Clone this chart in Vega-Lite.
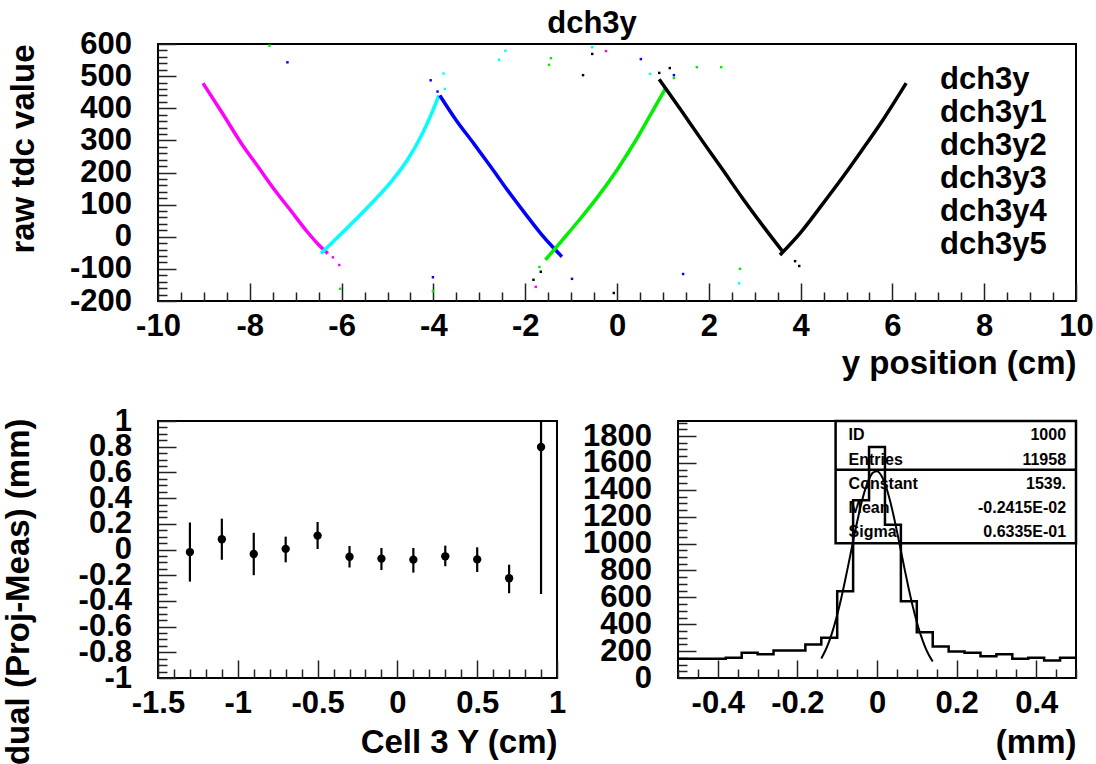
{
  "$schema": "https://vega.github.io/schema/vega-lite/v6.json",
  "background": "white",
  "padding": {"left": 0, "top": 7, "right": 10, "bottom": 10},
  "bounds": "flush",
  "spacing": 120,
  "config": {
    "font": "Liberation Sans",
    "view": {"stroke": "black", "strokeWidth": 2},
    "axis": {
      "labelFont": "Liberation Sans", "labelFontWeight": "bold", "labelFontSize": 31, "labelColor": "black",
      "titleFont": "Liberation Sans", "titleFontWeight": "bold", "titleFontSize": 33, "titleColor": "black",
      "domain": false, "grid": false, "tickColor": "#222222", "tickWidth": 1.5,
      "labelOverlap": false, "labelFlush": false, "labelBound": false
    }
  },
  "datasets": {
    "curves": [
      {"series": "dch3y5", "branch": "a", "pos": -9.02, "tdc": 478},
      {"series": "dch3y5", "branch": "a", "pos": -8.6, "tdc": 385},
      {"series": "dch3y5", "branch": "a", "pos": -8.19, "tdc": 292},
      {"series": "dch3y5", "branch": "a", "pos": -7.8, "tdc": 214},
      {"series": "dch3y5", "branch": "a", "pos": -7.47, "tdc": 148},
      {"series": "dch3y5", "branch": "a", "pos": -7.1, "tdc": 80},
      {"series": "dch3y5", "branch": "a", "pos": -6.74, "tdc": 14},
      {"series": "dch3y5", "branch": "a", "pos": -6.5, "tdc": -25},
      {"series": "dch3y5", "branch": "a", "pos": -6.3, "tdc": -52},
      {"series": "dch3y4", "branch": "b", "pos": -6.45, "tdc": -52},
      {"series": "dch3y4", "branch": "b", "pos": -6.02, "tdc": 8},
      {"series": "dch3y4", "branch": "b", "pos": -5.6, "tdc": 67},
      {"series": "dch3y4", "branch": "b", "pos": -5.29, "tdc": 113},
      {"series": "dch3y4", "branch": "b", "pos": -4.9, "tdc": 175},
      {"series": "dch3y4", "branch": "b", "pos": -4.57, "tdc": 238},
      {"series": "dch3y4", "branch": "b", "pos": -4.25, "tdc": 318},
      {"series": "dch3y4", "branch": "b", "pos": -4.05, "tdc": 380},
      {"series": "dch3y4", "branch": "b", "pos": -3.88, "tdc": 440},
      {"series": "dch3y3", "branch": "c", "pos": -3.86, "tdc": 440},
      {"series": "dch3y3", "branch": "c", "pos": -3.5, "tdc": 362},
      {"series": "dch3y3", "branch": "c", "pos": -3.12, "tdc": 290},
      {"series": "dch3y3", "branch": "c", "pos": -2.75, "tdc": 218},
      {"series": "dch3y3", "branch": "c", "pos": -2.39, "tdc": 146},
      {"series": "dch3y3", "branch": "c", "pos": -2.0, "tdc": 72},
      {"series": "dch3y3", "branch": "c", "pos": -1.66, "tdc": 10},
      {"series": "dch3y3", "branch": "c", "pos": -1.4, "tdc": -32},
      {"series": "dch3y3", "branch": "c", "pos": -1.2, "tdc": -62},
      {"series": "dch3y2", "branch": "d", "pos": -1.56, "tdc": -72},
      {"series": "dch3y2", "branch": "d", "pos": -1.2, "tdc": -12},
      {"series": "dch3y2", "branch": "d", "pos": -0.8, "tdc": 56},
      {"series": "dch3y2", "branch": "d", "pos": -0.4, "tdc": 128},
      {"series": "dch3y2", "branch": "d", "pos": 0, "tdc": 208},
      {"series": "dch3y2", "branch": "d", "pos": 0.4, "tdc": 298},
      {"series": "dch3y2", "branch": "d", "pos": 0.75, "tdc": 385},
      {"series": "dch3y2", "branch": "d", "pos": 1.07, "tdc": 465},
      {"series": "dch3y1", "branch": "e", "pos": 0.92, "tdc": 490},
      {"series": "dch3y1", "branch": "e", "pos": 1.4, "tdc": 393},
      {"series": "dch3y1", "branch": "e", "pos": 1.85, "tdc": 300},
      {"series": "dch3y1", "branch": "e", "pos": 2.3, "tdc": 209},
      {"series": "dch3y1", "branch": "e", "pos": 2.72, "tdc": 123},
      {"series": "dch3y1", "branch": "e", "pos": 3.2, "tdc": 30},
      {"series": "dch3y1", "branch": "e", "pos": 3.62, "tdc": -48},
      {"series": "dch3y1", "branch": "f", "pos": 3.55, "tdc": -57},
      {"series": "dch3y1", "branch": "f", "pos": 4.0, "tdc": 13},
      {"series": "dch3y1", "branch": "f", "pos": 4.47, "tdc": 100},
      {"series": "dch3y1", "branch": "f", "pos": 4.9, "tdc": 182},
      {"series": "dch3y1", "branch": "f", "pos": 5.34, "tdc": 270},
      {"series": "dch3y1", "branch": "f", "pos": 5.8, "tdc": 365},
      {"series": "dch3y1", "branch": "f", "pos": 6.3, "tdc": 478}
    ],
    "stray": [
      {"series": "dch3y2", "pos": -7.57, "tdc": 595},
      {"series": "dch3y3", "pos": -7.18, "tdc": 543},
      {"series": "dch3y3", "pos": -4.06, "tdc": 487},
      {"series": "dch3y3", "pos": -3.91, "tdc": 452},
      {"series": "dch3y4", "pos": -3.78, "tdc": 508},
      {"series": "dch3y4", "pos": -3.75, "tdc": 460},
      {"series": "dch3y4", "pos": -2.57, "tdc": 551},
      {"series": "dch3y4", "pos": -2.43, "tdc": 579},
      {"series": "dch3y5", "pos": -6.19, "tdc": -64},
      {"series": "dch3y5", "pos": -6.05, "tdc": -88},
      {"series": "dch3y2", "pos": -6.03, "tdc": -162},
      {"series": "dch3y3", "pos": -4.01, "tdc": -126},
      {"series": "dch3y2", "pos": -4.01, "tdc": -170},
      {"series": "dch3y", "pos": -1.82, "tdc": -134},
      {"series": "dch3y5", "pos": -1.77, "tdc": -156},
      {"series": "dch3y2", "pos": -1.69, "tdc": -94},
      {"series": "dch3y", "pos": -1.66, "tdc": -109},
      {"series": "dch3y", "pos": -0.74, "tdc": 503},
      {"series": "dch3y2", "pos": -1.44, "tdc": 556},
      {"series": "dch3y2", "pos": -1.48, "tdc": 535},
      {"series": "dch3y4", "pos": -0.54, "tdc": 590},
      {"series": "dch3y", "pos": -0.54, "tdc": 569},
      {"series": "dch3y5", "pos": -0.24, "tdc": 578},
      {"series": "dch3y3", "pos": 0.52, "tdc": 553},
      {"series": "dch3y", "pos": 0.92, "tdc": 510},
      {"series": "dch3y2", "pos": 1.24, "tdc": 494},
      {"series": "dch3y2", "pos": 1.74, "tdc": 528},
      {"series": "dch3y2", "pos": 2.27, "tdc": 528},
      {"series": "dch3y4", "pos": 0.72, "tdc": 507},
      {"series": "dch3y", "pos": 1.15, "tdc": 525},
      {"series": "dch3y3", "pos": 1.24, "tdc": 503},
      {"series": "dch3y3", "pos": -0.98, "tdc": -131},
      {"series": "dch3y2", "pos": 2.68, "tdc": -100},
      {"series": "dch3y4", "pos": 2.66, "tdc": -145},
      {"series": "dch3y3", "pos": 1.44, "tdc": -116},
      {"series": "dch3y", "pos": -0.07, "tdc": -175},
      {"series": "dch3y", "pos": 3.88, "tdc": -76},
      {"series": "dch3y", "pos": 3.97, "tdc": -91}
    ],
    "residuals": [
      {"cell": -1.3, "res": -0.02, "lo": -0.25, "hi": 0.21},
      {"cell": -1.1, "res": 0.08, "lo": -0.08, "hi": 0.24},
      {"cell": -0.9, "res": -0.035, "lo": -0.2, "hi": 0.13},
      {"cell": -0.7, "res": 0.005, "lo": -0.1, "hi": 0.1},
      {"cell": -0.5, "res": 0.108, "lo": 0.004, "hi": 0.214},
      {"cell": -0.3, "res": -0.056, "lo": -0.14, "hi": 0.027},
      {"cell": -0.1, "res": -0.071, "lo": -0.16, "hi": 0.012},
      {"cell": 0.1, "res": -0.079, "lo": -0.18, "hi": 0.012},
      {"cell": 0.3, "res": -0.053, "lo": -0.13, "hi": 0.03},
      {"cell": 0.5, "res": -0.077, "lo": -0.175, "hi": 0.017},
      {"cell": 0.7, "res": -0.224, "lo": -0.34, "hi": -0.118},
      {"cell": 0.9, "res": 0.798, "lo": -0.346, "hi": 1.94}
    ],
    "hist": [
      {"mm": -0.5, "entries": 143}, {"mm": -0.46, "entries": 143}, {"mm": -0.42, "entries": 143},
      {"mm": -0.38, "entries": 151}, {"mm": -0.34, "entries": 188}, {"mm": -0.3, "entries": 176},
      {"mm": -0.26, "entries": 205}, {"mm": -0.22, "entries": 205}, {"mm": -0.18, "entries": 250},
      {"mm": -0.14, "entries": 299}, {"mm": -0.1, "entries": 645}, {"mm": -0.06, "entries": 1323},
      {"mm": -0.02, "entries": 1719}, {"mm": 0.02, "entries": 1140}, {"mm": 0.06, "entries": 571},
      {"mm": 0.1, "entries": 341}, {"mm": 0.14, "entries": 235}, {"mm": 0.18, "entries": 198},
      {"mm": 0.22, "entries": 188}, {"mm": 0.26, "entries": 161}, {"mm": 0.3, "entries": 176},
      {"mm": 0.34, "entries": 143}, {"mm": 0.38, "entries": 151}, {"mm": 0.42, "entries": 131},
      {"mm": 0.46, "entries": 151}, {"mm": 0.5, "entries": 151}
    ],
    "fit": [
      {"mm": -0.14, "entries": 145.6}, {"mm": -0.13, "entries": 202.5}, {"mm": -0.12, "entries": 274.9},
      {"mm": -0.11, "entries": 363.9}, {"mm": -0.1, "entries": 469.9}, {"mm": -0.09, "entries": 591.8},
      {"mm": -0.08, "entries": 727.0}, {"mm": -0.07, "entries": 871.1}, {"mm": -0.06, "entries": 1018.2},
      {"mm": -0.05, "entries": 1160.7}, {"mm": -0.04, "entries": 1290.6}, {"mm": -0.03, "entries": 1399.8},
      {"mm": -0.02, "entries": 1480.8}, {"mm": -0.01, "entries": 1528.0}, {"mm": 0.0, "entries": 1537.9},
      {"mm": 0.01, "entries": 1509.7}, {"mm": 0.02, "entries": 1445.6}, {"mm": 0.03, "entries": 1350.2},
      {"mm": 0.04, "entries": 1230.0}, {"mm": 0.05, "entries": 1092.9}, {"mm": 0.06, "entries": 947.2},
      {"mm": 0.07, "entries": 800.7}, {"mm": 0.08, "entries": 660.3}, {"mm": 0.09, "entries": 531.0},
      {"mm": 0.1, "entries": 416.6}, {"mm": 0.11, "entries": 318.8}, {"mm": 0.12, "entries": 237.9},
      {"mm": 0.13, "entries": 173.2}, {"mm": 0.14, "entries": 123.0}
    ]
  },
  "vconcat": [
    {
      "width": 918,
      "height": 257,
      "title": {"text": "dch3y", "font": "Liberation Sans", "fontSize": 31, "fontWeight": "bold", "color": "black", "anchor": "middle", "frame": "group", "dx": -25, "offset": -36, "baseline": "alphabetic"},
      "encoding": {
        "x": {
          "field": "pos", "type": "quantitative",
          "scale": {"domain": [-10, 10], "nice": false, "zero": false},
          "axis": {
            "values": [-10, -9.5, -9, -8.5, -8, -7.5, -7, -6.5, -6, -5.5, -5, -4.5, -4, -3.5, -3, -2.5, -2, -1.5, -1, -0.5, 0, 0.5, 1, 1.5, 2, 2.5, 3, 3.5, 4, 4.5, 5, 5.5, 6, 6.5, 7, 7.5, 8, 8.5, 9, 9.5, 10],
            "labelExpr": "datum.value % 2 === 0 ? '' + datum.value : ''",
            "tickSize": {"condition": {"test": "datum.value % 2 === 0", "value": -18}, "value": -9},
            "labelPadding": 28, "labelBaseline": "top",
            "title": "y position (cm)", "titleX": 918, "titleY": 72, "titleAlign": "right", "titleBaseline": "alphabetic", "titleAngle": 0
          }
        },
        "y": {
          "field": "tdc", "type": "quantitative",
          "scale": {"domain": [-200, 600], "nice": false, "zero": false},
          "axis": {
            "values": [-200, -180, -160, -140, -120, -100, -80, -60, -40, -20, 0, 20, 40, 60, 80, 100, 120, 140, 160, 180, 200, 220, 240, 260, 280, 300, 320, 340, 360, 380, 400, 420, 440, 460, 480, 500, 520, 540, 560, 580, 600],
            "labelExpr": "datum.value % 100 === 0 ? '' + datum.value : ''",
            "tickSize": {"condition": {"test": "datum.value % 100 === 0", "value": -18}, "value": -9},
            "labelPadding": 44.5, "labelAlign": "right", "labelBaseline": "middle",
            "title": "raw tdc value", "titleX": -125, "titleY": 0, "titleAlign": "right", "titleBaseline": "alphabetic", "titleAngle": -90
          }
        },
        "color": {
          "field": "series", "type": "nominal",
          "scale": {"domain": ["dch3y", "dch3y1", "dch3y2", "dch3y3", "dch3y4", "dch3y5"], "range": ["#000000", "#000000", "#00ee00", "#0000ff", "#00ffff", "#ff00ff"]},
          "legend": {"orient": "none", "legendX": 751, "legendY": 20, "title": null, "symbolOpacity": 0, "symbolSize": 0, "symbolStrokeWidth": 0, "labelOffset": 0, "labelFont": "Liberation Sans", "labelFontSize": 31, "labelFontWeight": "bold", "labelColor": "black", "rowPadding": 1}
        }
      },
      "layer": [
        {"data": {"name": "curves"}, "mark": {"type": "line", "strokeWidth": 3.5, "interpolate": "monotone", "clip": true}, "encoding": {"detail": {"field": "branch"}}},
        {"data": {"name": "stray"}, "mark": {"type": "square", "size": 6, "opacity": 1, "clip": true}}
      ]
    },
    {
      "spacing": 121,
      "bounds": "flush",
      "hconcat": [
        {
          "width": 399,
          "height": 257,
          "data": {"name": "residuals"},
          "encoding": {
            "x": {
              "field": "cell", "type": "quantitative",
              "scale": {"domain": [-1.5, 1], "nice": false, "zero": false},
              "axis": {
                "values": [-1.5, -1.4, -1.3, -1.2, -1.1, -1, -0.9, -0.8, -0.7, -0.6, -0.5, -0.4, -0.3, -0.2, -0.1, 0, 0.1, 0.2, 0.3, 0.4, 0.5, 0.6, 0.7, 0.8, 0.9, 1],
                "labelExpr": "abs(datum.value*2 - round(datum.value*2)) < 0.001 ? '' + datum.value : ''",
                "tickSize": {"condition": {"test": "abs(datum.value*2 - round(datum.value*2)) < 0.001", "value": -18}, "value": -9},
                "labelPadding": 28, "labelBaseline": "top",
                "title": "Cell 3 Y (cm)", "titleX": 399, "titleY": 74, "titleAlign": "right", "titleBaseline": "alphabetic", "titleAngle": 0
              }
            },
            "y": {
              "field": "res", "type": "quantitative",
              "scale": {"domain": [-1, 1], "nice": false, "zero": false},
              "axis": {
                "values": [-1, -0.95, -0.9, -0.85, -0.8, -0.75, -0.7, -0.65, -0.6, -0.55, -0.5, -0.45, -0.4, -0.35, -0.3, -0.25, -0.2, -0.15, -0.1, -0.05, 0, 0.05, 0.1, 0.15, 0.2, 0.25, 0.3, 0.35, 0.4, 0.45, 0.5, 0.55, 0.6, 0.65, 0.7, 0.75, 0.8, 0.85, 0.9, 0.95, 1],
                "labelExpr": "abs(datum.value*5 - round(datum.value*5)) < 0.001 ? '' + datum.value : ''",
                "tickSize": {"condition": {"test": "abs(datum.value*5 - round(datum.value*5)) < 0.001", "value": -18}, "value": -9},
                "labelPadding": 44.5, "labelAlign": "right", "labelBaseline": "middle",
                "title": "Residual (Proj-Meas) (mm)", "titleX": -130, "titleY": -3, "titleAlign": "right", "titleBaseline": "alphabetic", "titleAngle": -90
              }
            }
          },
          "layer": [
            {
              "mark": {"type": "rule", "strokeWidth": 2.2, "color": "black", "clip": true},
              "encoding": {
                "y": {"field": "lo", "type": "quantitative", "scale": {"domain": [-1, 1], "nice": false, "zero": false}, "title": "Residual (Proj-Meas) (mm)"},
                "y2": {"field": "hi"}
              }
            },
            {
              "mark": {"type": "point", "filled": true, "size": 70, "color": "black", "opacity": 1}
            }
          ]
        },
        {
          "width": 398,
          "height": 257,
          "layer": [
            {
              "data": {"name": "hist"},
              "mark": {"type": "line", "interpolate": "step-after", "color": "black", "strokeWidth": 2.5, "clip": true},
              "encoding": {
                "x": {
                  "field": "mm", "type": "quantitative",
                  "scale": {"domain": [-0.5, 0.5], "nice": false, "zero": false},
                  "axis": {
                    "values": [-0.5, -0.45, -0.4, -0.35, -0.3, -0.25, -0.2, -0.15, -0.1, -0.05, 0, 0.05, 0.1, 0.15, 0.2, 0.25, 0.3, 0.35, 0.4, 0.45, 0.5],
                    "labelExpr": "abs(datum.value*5 - round(datum.value*5)) < 0.001 && abs(datum.value) < 0.45 ? '' + datum.value : ''",
                    "tickSize": {"condition": {"test": "abs(datum.value*5 - round(datum.value*5)) < 0.001", "value": -18}, "value": -9},
                    "labelPadding": 28, "labelBaseline": "top",
                    "title": "(mm)", "titleX": 398, "titleY": 74, "titleAlign": "right", "titleBaseline": "alphabetic", "titleAngle": 0
                  }
                },
                "y": {
                  "field": "entries", "type": "quantitative",
                  "scale": {"domain": [0, 1912], "nice": false, "zero": false},
                  "axis": {
                    "values": [0, 50, 100, 150, 200, 250, 300, 350, 400, 450, 500, 550, 600, 650, 700, 750, 800, 850, 900, 950, 1000, 1050, 1100, 1150, 1200, 1250, 1300, 1350, 1400, 1450, 1500, 1550, 1600, 1650, 1700, 1750, 1800, 1850, 1900],
                    "labelExpr": "datum.value % 200 === 0 ? '' + datum.value : ''",
                    "tickSize": {"condition": {"test": "datum.value % 200 === 0", "value": -18}, "value": -9},
                    "labelPadding": 44.5, "labelAlign": "right", "labelBaseline": "middle",
                    "title": null
                  }
                }
              }
            },
            {
              "data": {"name": "fit"},
              "mark": {"type": "line", "interpolate": "monotone", "color": "black", "strokeWidth": 2, "clip": true},
              "encoding": {
                "x": {
                  "field": "mm", "type": "quantitative",
                  "scale": {"domain": [-0.5, 0.5], "nice": false, "zero": false},
                  "axis": {
                    "values": [-0.5, -0.45, -0.4, -0.35, -0.3, -0.25, -0.2, -0.15, -0.1, -0.05, 0, 0.05, 0.1, 0.15, 0.2, 0.25, 0.3, 0.35, 0.4, 0.45, 0.5],
                    "labelExpr": "abs(datum.value*5 - round(datum.value*5)) < 0.001 && abs(datum.value) < 0.45 ? '' + datum.value : ''",
                    "tickSize": {"condition": {"test": "abs(datum.value*5 - round(datum.value*5)) < 0.001", "value": -18}, "value": -9},
                    "labelPadding": 28, "labelBaseline": "top",
                    "title": "(mm)", "titleX": 398, "titleY": 74, "titleAlign": "right", "titleBaseline": "alphabetic", "titleAngle": 0
                  }
                },
                "y": {
                  "field": "entries", "type": "quantitative",
                  "scale": {"domain": [0, 1912], "nice": false, "zero": false},
                  "axis": {
                    "values": [0, 50, 100, 150, 200, 250, 300, 350, 400, 450, 500, 550, 600, 650, 700, 750, 800, 850, 900, 950, 1000, 1050, 1100, 1150, 1200, 1250, 1300, 1350, 1400, 1450, 1500, 1550, 1600, 1650, 1700, 1750, 1800, 1850, 1900],
                    "labelExpr": "datum.value % 200 === 0 ? '' + datum.value : ''",
                    "tickSize": {"condition": {"test": "datum.value % 200 === 0", "value": -18}, "value": -9},
                    "labelPadding": 44.5, "labelAlign": "right", "labelBaseline": "middle",
                    "title": null
                  }
                }
              }
            },
            {
              "data": {"values": [{"box": "stats"}]},
              "mark": {"type": "rect", "fill": "white", "fillOpacity": 0, "stroke": "black", "strokeWidth": 2.5},
              "encoding": {
                "x": {
                  "datum": -0.104, "type": "quantitative",
                  "scale": {"domain": [-0.5, 0.5], "nice": false, "zero": false},
                  "axis": {
                    "values": [-0.5, -0.45, -0.4, -0.35, -0.3, -0.25, -0.2, -0.15, -0.1, -0.05, 0, 0.05, 0.1, 0.15, 0.2, 0.25, 0.3, 0.35, 0.4, 0.45, 0.5],
                    "labelExpr": "abs(datum.value*5 - round(datum.value*5)) < 0.001 && abs(datum.value) < 0.45 ? '' + datum.value : ''",
                    "tickSize": {"condition": {"test": "abs(datum.value*5 - round(datum.value*5)) < 0.001", "value": -18}, "value": -9},
                    "labelPadding": 28, "labelBaseline": "top",
                    "title": "(mm)", "titleX": 398, "titleY": 74, "titleAlign": "right", "titleBaseline": "alphabetic", "titleAngle": 0
                  }
                },
                "x2": {"datum": 0.5},
                "y": {
                  "datum": 1002, "type": "quantitative",
                  "scale": {"domain": [0, 1912], "nice": false, "zero": false},
                  "axis": {
                    "values": [0, 50, 100, 150, 200, 250, 300, 350, 400, 450, 500, 550, 600, 650, 700, 750, 800, 850, 900, 950, 1000, 1050, 1100, 1150, 1200, 1250, 1300, 1350, 1400, 1450, 1500, 1550, 1600, 1650, 1700, 1750, 1800, 1850, 1900],
                    "labelExpr": "datum.value % 200 === 0 ? '' + datum.value : ''",
                    "tickSize": {"condition": {"test": "datum.value % 200 === 0", "value": -18}, "value": -9},
                    "labelPadding": 44.5, "labelAlign": "right", "labelBaseline": "middle",
                    "title": null
                  }
                },
                "y2": {"datum": 1912}
              }
            },
            {
              "data": {"values": [{"box": "stats"}]},
              "mark": {"type": "rule", "stroke": "black", "strokeWidth": 2.5},
              "encoding": {
                "x": {
                  "datum": -0.104, "type": "quantitative",
                  "scale": {"domain": [-0.5, 0.5], "nice": false, "zero": false},
                  "axis": {
                    "values": [-0.5, -0.45, -0.4, -0.35, -0.3, -0.25, -0.2, -0.15, -0.1, -0.05, 0, 0.05, 0.1, 0.15, 0.2, 0.25, 0.3, 0.35, 0.4, 0.45, 0.5],
                    "labelExpr": "abs(datum.value*5 - round(datum.value*5)) < 0.001 && abs(datum.value) < 0.45 ? '' + datum.value : ''",
                    "tickSize": {"condition": {"test": "abs(datum.value*5 - round(datum.value*5)) < 0.001", "value": -18}, "value": -9},
                    "labelPadding": 28, "labelBaseline": "top",
                    "title": "(mm)", "titleX": 398, "titleY": 74, "titleAlign": "right", "titleBaseline": "alphabetic", "titleAngle": 0
                  }
                },
                "x2": {"datum": 0.5},
                "y": {
                  "datum": 1549, "type": "quantitative",
                  "scale": {"domain": [0, 1912], "nice": false, "zero": false},
                  "axis": {
                    "values": [0, 50, 100, 150, 200, 250, 300, 350, 400, 450, 500, 550, 600, 650, 700, 750, 800, 850, 900, 950, 1000, 1050, 1100, 1150, 1200, 1250, 1300, 1350, 1400, 1450, 1500, 1550, 1600, 1650, 1700, 1750, 1800, 1850, 1900],
                    "labelExpr": "datum.value % 200 === 0 ? '' + datum.value : ''",
                    "tickSize": {"condition": {"test": "datum.value % 200 === 0", "value": -18}, "value": -9},
                    "labelPadding": 44.5, "labelAlign": "right", "labelBaseline": "middle",
                    "title": null
                  }
                }
              }
            },
            {
              "data": {"values": [{"box": "stats"}]},
              "mark": {"type": "text", "text": ["ID", "Entries", "Constant", "Mean", "Sigma"], "align": "left", "baseline": "alphabetic", "lineHeight": 24.25, "font": "Liberation Sans", "fontWeight": "bold", "fontSize": 16, "color": "black"},
              "encoding": {
                "x": {
                  "datum": -0.0714, "type": "quantitative",
                  "scale": {"domain": [-0.5, 0.5], "nice": false, "zero": false},
                  "axis": {
                    "values": [-0.5, -0.45, -0.4, -0.35, -0.3, -0.25, -0.2, -0.15, -0.1, -0.05, 0, 0.05, 0.1, 0.15, 0.2, 0.25, 0.3, 0.35, 0.4, 0.45, 0.5],
                    "labelExpr": "abs(datum.value*5 - round(datum.value*5)) < 0.001 && abs(datum.value) < 0.45 ? '' + datum.value : ''",
                    "tickSize": {"condition": {"test": "abs(datum.value*5 - round(datum.value*5)) < 0.001", "value": -18}, "value": -9},
                    "labelPadding": 28, "labelBaseline": "top",
                    "title": "(mm)", "titleX": 398, "titleY": 74, "titleAlign": "right", "titleBaseline": "alphabetic", "titleAngle": 0
                  }
                },
                "y": {
                  "datum": 1768, "type": "quantitative",
                  "scale": {"domain": [0, 1912], "nice": false, "zero": false},
                  "axis": {
                    "values": [0, 50, 100, 150, 200, 250, 300, 350, 400, 450, 500, 550, 600, 650, 700, 750, 800, 850, 900, 950, 1000, 1050, 1100, 1150, 1200, 1250, 1300, 1350, 1400, 1450, 1500, 1550, 1600, 1650, 1700, 1750, 1800, 1850, 1900],
                    "labelExpr": "datum.value % 200 === 0 ? '' + datum.value : ''",
                    "tickSize": {"condition": {"test": "datum.value % 200 === 0", "value": -18}, "value": -9},
                    "labelPadding": 44.5, "labelAlign": "right", "labelBaseline": "middle",
                    "title": null
                  }
                }
              }
            },
            {
              "data": {"values": [{"box": "stats"}]},
              "mark": {"type": "text", "text": ["1000", "11958", "1539.", "-0.2415E-02", "0.6335E-01"], "align": "right", "baseline": "alphabetic", "lineHeight": 24.25, "font": "Liberation Sans", "fontWeight": "bold", "fontSize": 16, "color": "black"},
              "encoding": {
                "x": {
                  "datum": 0.475, "type": "quantitative",
                  "scale": {"domain": [-0.5, 0.5], "nice": false, "zero": false},
                  "axis": {
                    "values": [-0.5, -0.45, -0.4, -0.35, -0.3, -0.25, -0.2, -0.15, -0.1, -0.05, 0, 0.05, 0.1, 0.15, 0.2, 0.25, 0.3, 0.35, 0.4, 0.45, 0.5],
                    "labelExpr": "abs(datum.value*5 - round(datum.value*5)) < 0.001 && abs(datum.value) < 0.45 ? '' + datum.value : ''",
                    "tickSize": {"condition": {"test": "abs(datum.value*5 - round(datum.value*5)) < 0.001", "value": -18}, "value": -9},
                    "labelPadding": 28, "labelBaseline": "top",
                    "title": "(mm)", "titleX": 398, "titleY": 74, "titleAlign": "right", "titleBaseline": "alphabetic", "titleAngle": 0
                  }
                },
                "y": {
                  "datum": 1768, "type": "quantitative",
                  "scale": {"domain": [0, 1912], "nice": false, "zero": false},
                  "axis": {
                    "values": [0, 50, 100, 150, 200, 250, 300, 350, 400, 450, 500, 550, 600, 650, 700, 750, 800, 850, 900, 950, 1000, 1050, 1100, 1150, 1200, 1250, 1300, 1350, 1400, 1450, 1500, 1550, 1600, 1650, 1700, 1750, 1800, 1850, 1900],
                    "labelExpr": "datum.value % 200 === 0 ? '' + datum.value : ''",
                    "tickSize": {"condition": {"test": "datum.value % 200 === 0", "value": -18}, "value": -9},
                    "labelPadding": 44.5, "labelAlign": "right", "labelBaseline": "middle",
                    "title": null
                  }
                }
              }
            }
          ]
        }
      ]
    }
  ]
}
